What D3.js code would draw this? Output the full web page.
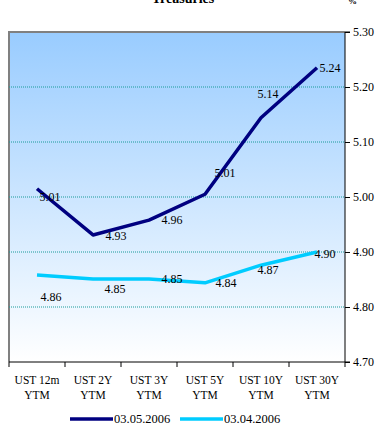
<!DOCTYPE html>
<html>
<head>
<meta charset="utf-8">
<script src="https://cdn.jsdelivr.net/npm/d3@7/dist/d3.min.js"></script>
<style>
  html, body { margin: 0; padding: 0; background: #fff; }
  svg { display: block; font-family: "Liberation Serif", "Times New Roman", serif; }
</style>
</head>
<body>
<svg id="chart" width="377" height="426"></svg>
<script>
// Treasury yield curve on two dates (yield, %)
const categories = ["UST 12m YTM", "UST 2Y YTM", "UST 3Y YTM", "UST 5Y YTM", "UST 10Y YTM", "UST 30Y YTM"];
const seriesNames = ["03.05.2006", "03.04.2006"];
const yieldsMay = [5.015, 4.931, 4.958, 5.005, 5.144, 5.235];
const yieldsApr = [4.858, 4.851, 4.851, 4.844, 4.876, 4.900];
const labelsMay = ["5.01", "4.93", "4.96", "5.01", "5.14", "5.24"];
const labelsApr = ["4.86", "4.85", "4.85", "4.84", "4.87", "4.90"];
const yTicks = [4.70, 4.80, 4.90, 5.00, 5.10, 5.20, 5.30];

const colors = ["#000080", "#00ccff"];
// label nudges (dx, dy) relative to each point
const nudgeMay = [[13, 8], [23, 1], [23, 0], [20, -21], [7, -24], [13, 0]];
const nudgeApr = [[14, 22], [22, 10], [23, 0], [21, 0], [7, 5], [8, 2]];

const svg = d3.select("#chart");
const m = { left: 9, right: 345, top: 32, bottom: 362 };

const x = d3.scaleBand().domain(categories).range([m.left, m.right]);
const y = d3.scaleLinear().domain([4.70, 5.30]).range([m.bottom, m.top]);

// plot background gradient
const defs = svg.append("defs");
const grad = defs.append("linearGradient").attr("id", "bg").attr("x1", 0).attr("y1", 0).attr("x2", 0).attr("y2", 1);
grad.append("stop").attr("offset", "0%").attr("stop-color", "#99ccff");
grad.append("stop").attr("offset", "100%").attr("stop-color", "#ffffff");

svg.append("rect")
  .attr("x", m.left).attr("y", m.top)
  .attr("width", m.right - m.left).attr("height", m.bottom - m.top)
  .attr("fill", "url(#bg)");

// grey frame on left and top
svg.append("path")
  .attr("d", `M${m.left},${m.bottom} V${m.top} H${m.right}`)
  .attr("fill", "none").attr("stroke", "#808080").attr("stroke-width", 2);

// dotted gridlines
svg.append("g").selectAll("line")
  .data(yTicks.filter(t => t > 4.70 && t < 5.30))
  .join("line")
  .attr("x1", m.left).attr("x2", m.right)
  .attr("y1", d => y(d)).attr("y2", d => y(d))
  .attr("stroke", "#1a9a9a").attr("stroke-width", 1).attr("stroke-dasharray", "1,1");

// right value axis
const yAxis = d3.axisRight(y).tickValues(yTicks).tickFormat(d3.format(".2f")).tickSize(5).tickPadding(3);
const gy = svg.append("g").attr("transform", `translate(${m.right},0)`).call(yAxis);
gy.select(".domain").attr("stroke", "#000").attr("d", `M5,${m.top}H0V${m.bottom}H5`);
gy.selectAll("text").attr("font-size", 12).attr("fill", "#000").attr("font-family", "Liberation Serif");

// bottom category axis with ticks between categories
svg.append("line")
  .attr("x1", m.left).attr("x2", m.right).attr("y1", m.bottom).attr("y2", m.bottom)
  .attr("stroke", "#000");
svg.append("g").selectAll("line")
  .data(categories.concat(["__end"]))
  .join("line")
  .attr("x1", (d, i) => m.left + i * x.bandwidth())
  .attr("x2", (d, i) => m.left + i * x.bandwidth())
  .attr("y1", m.bottom).attr("y2", m.bottom + 5)
  .attr("stroke", "#000");

const catText = svg.append("g").selectAll("text")
  .data(categories)
  .join("text")
  .attr("text-anchor", "middle")
  .attr("font-size", 11.5)
  .attr("fill", "#000");
catText.each(function(d) {
  const parts = d.split(" ");
  const cx = x(d) + x.bandwidth() / 2;
  const t = d3.select(this);
  t.append("tspan").attr("x", cx).attr("y", 384).text(parts[0] + " " + parts[1]);
  t.append("tspan").attr("x", cx).attr("y", 399).text(parts[2]);
});

// series lines
const line = d3.line()
  .x((d, i) => x(categories[i]) + x.bandwidth() / 2)
  .y(d => y(d));

[yieldsMay, yieldsApr].forEach((vals, s) => {
  svg.append("path")
    .attr("d", line(vals))
    .attr("fill", "none")
    .attr("stroke", colors[s])
    .attr("stroke-width", 3.5)
    .attr("stroke-linejoin", "round");
});

// data labels
[[yieldsMay, labelsMay, nudgeMay], [yieldsApr, labelsApr, nudgeApr]].forEach(([vals, labs, nudge]) => {
  svg.append("g").selectAll("text")
    .data(vals)
    .join("text")
    .attr("x", (d, i) => x(categories[i]) + x.bandwidth() / 2 + nudge[i][0])
    .attr("y", (d, i) => y(d) + nudge[i][1])
    .attr("dy", "0.35em")
    .attr("text-anchor", "middle")
    .attr("font-size", 12)
    .attr("fill", "#000")
    .text((d, i) => labs[i]);
});

// title (partly above the top edge) and unit
svg.append("text")
  .attr("x", 183).attr("y", 3)
  .attr("text-anchor", "middle")
  .attr("font-size", 14).attr("font-weight", "bold")
  .text("Treasuries");
svg.append("text")
  .attr("x", 348).attr("y", 4)
  .attr("font-size", 9).attr("font-weight", "bold")
  .text("%");

// legend
const legend = svg.append("g");
const legendX = [70, 180];
seriesNames.forEach((name, s) => {
  legend.append("line")
    .attr("x1", legendX[s]).attr("x2", legendX[s] + 43)
    .attr("y1", 419).attr("y2", 419)
    .attr("stroke", colors[s]).attr("stroke-width", 3.5);
  legend.append("text")
    .attr("x", legendX[s] + 44).attr("y", 423)
    .attr("font-size", 12.5)
    .text(name);
});
</script>
</body>
</html>
